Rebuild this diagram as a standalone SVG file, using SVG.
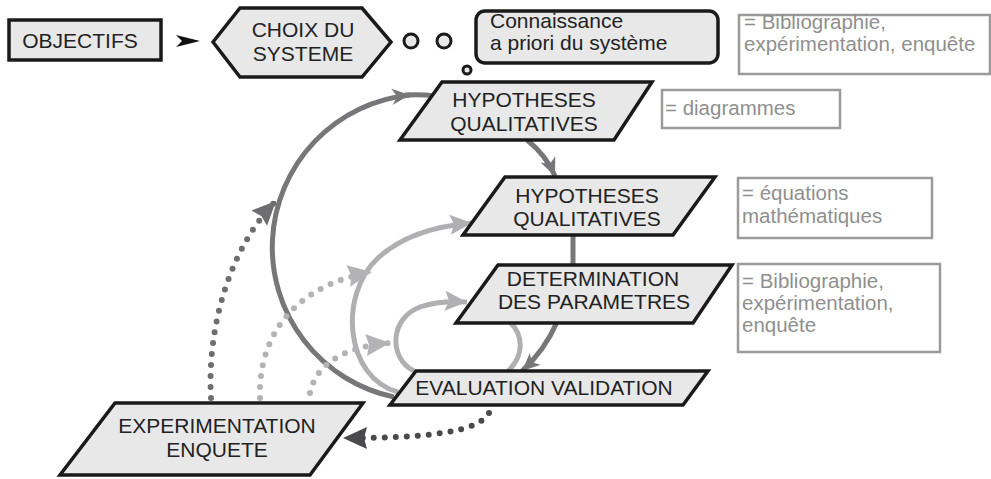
<svg xmlns="http://www.w3.org/2000/svg" width="991" height="479" viewBox="0 0 991 479">
<style>
.node{fill:#e8e8e9;stroke:#1a1a1a;stroke-width:3.5;stroke-linejoin:miter}
.t{font-family:"Liberation Sans",Arial,sans-serif;font-size:21px;fill:#222}
.m{text-anchor:middle}
.note{fill:#fff;stroke:#9a9a9a;stroke-width:2.5}
.nt{font-family:"Liberation Sans",Arial,sans-serif;font-size:20.5px;fill:#8f8f8f}
.dark{fill:none;stroke:#777779;stroke-width:5}
.light{fill:none;stroke:#b0b0b2;stroke-width:5}
.dotd{fill:none;stroke:#6e6e70;stroke-width:6;stroke-linecap:round;stroke-dasharray:0 11}
.dotl{fill:none;stroke:#b3b3b5;stroke-width:6;stroke-linecap:round;stroke-dasharray:0 11}
.dotk{fill:none;stroke:#4a4a4c;stroke-width:6;stroke-linecap:round;stroke-dasharray:0 11}
</style>
<defs>
<marker id="ad" markerUnits="userSpaceOnUse" markerWidth="20" markerHeight="16" refX="18" refY="8" orient="auto" overflow="visible">
<path d="M0,0 L18,8 L0,16 L5,8 z" fill="#777779"/>
</marker>
<marker id="al" markerUnits="userSpaceOnUse" markerWidth="24" markerHeight="20" refX="22" refY="10" orient="auto" overflow="visible">
<path d="M0,0 L22,10 L0,20 L4,10 z" fill="#b0b0b2"/>
</marker>
<marker id="adl" markerUnits="userSpaceOnUse" markerWidth="26" markerHeight="22" refX="24" refY="11" orient="auto" overflow="visible">
<path d="M0,0 L24,11 L0,22 L3,11 z" fill="#6e6e70"/>
</marker>
<marker id="all" markerUnits="userSpaceOnUse" markerWidth="26" markerHeight="22" refX="24" refY="11" orient="auto" overflow="visible">
<path d="M0,0 L24,11 L0,22 L3,11 z" fill="#b3b3b5"/>
</marker>
<marker id="akl" markerUnits="userSpaceOnUse" markerWidth="26" markerHeight="22" refX="24" refY="11" orient="auto" overflow="visible">
<path d="M0,0 L24,11 L0,22 L3,11 z" fill="#4a4a4c"/>
</marker>
</defs>

<g id="connectors">
<path d="M176,35 L200,41 L176,47 L182,41 z" fill="#111"/>
<path class="dark" d="M394,397 A 153 153 0 0 1 410,95" marker-end="url(#ad)"/>
<path class="dark" d="M405,95 Q 420,94 436,96"/>
<path class="dark" d="M527,140 Q 546,155 555,176" marker-end="url(#ad)"/>
<path class="dark" d="M573,234 L573,266"/>
<path class="dark" d="M557,322 Q 545,350 522,371" marker-end="url(#ad)"/>
<path class="light" d="M398,392 C 345,378 338,295 378,258 C 402,236 435,226 472,223" marker-end="url(#al)"/>
<path class="light" d="M414,371 C 388,358 390,318 420,307 C 434,302 450,301 467,302" marker-end="url(#al)"/>
<path class="light" d="M510,322 C 524,336 524,356 508,371"/>
<path class="dotd" d="M211,398 C 207,330 228,250 276,201" marker-end="url(#adl)"/>
<path class="dotl" d="M260,398 C 258,335 295,285 372,272" marker-end="url(#all)"/>
<path class="dotl" d="M310,393 C 316,365 342,347 390,343" marker-end="url(#all)"/>
<path class="dotk" d="M489,413 C 478,432 430,438 343,438" marker-end="url(#akl)"/>
</g>

<g id="objectifs">
<rect class="node" x="9" y="20" width="152" height="40"/>
<text class="t m" x="80" y="48">OBJECTIFS</text>
</g>

<g id="choix">
<polygon class="node" points="213,42 240,8 362,8 391,42 362,77 240,77"/>
<text class="t m" x="303" y="37">CHOIX DU</text>
<text class="t m" x="303" y="61">SYSTEME</text>
</g>

<g id="bulles">
<circle cx="411" cy="41" r="7" fill="#e8e8e9" stroke="#1a1a1a" stroke-width="3"/>
<circle cx="444" cy="41" r="7" fill="#e8e8e9" stroke="#1a1a1a" stroke-width="3"/>
<circle cx="467" cy="70" r="4" fill="#e8e8e9" stroke="#1a1a1a" stroke-width="3"/>
</g>

<g id="connaissance">
<rect class="node" x="476" y="11" width="242" height="52" rx="9"/>
<text class="t" x="490" y="28">Connaissance</text>
<text class="t" x="490" y="50">a priori du système</text>
</g>

<g id="note1">
<rect class="note" x="739" y="15" width="251" height="59"/>
<text class="nt" x="744" y="29">= Bibliographie,</text>
<text class="nt" x="744" y="51">expérimentation, enquête</text>
</g>

<g id="hyp1">
<polygon class="node" points="442,82 652,82 614,140 400,140"/>
<text class="t m" x="524" y="107">HYPOTHESES</text>
<text class="t m" x="524" y="131">QUALITATIVES</text>
</g>

<g id="note2">
<rect class="note" x="662" y="90" width="178" height="38"/>
<text class="nt" x="665" y="115">= diagrammes</text>
</g>

<g id="hyp2">
<polygon class="node" points="505,177 715,177 673,235 463,235"/>
<text class="t m" x="587" y="203">HYPOTHESES</text>
<text class="t m" x="587" y="226">QUALITATIVES</text>
</g>

<g id="note3">
<rect class="note" x="738" y="178" width="194" height="60"/>
<text class="nt" x="742" y="200">= équations</text>
<text class="nt" x="742" y="223">mathématiques</text>
</g>

<g id="determination">
<polygon class="node" points="498,265 732,265 693,323 456,323"/>
<text class="t m" x="593" y="286">DETERMINATION</text>
<text class="t m" x="594" y="309">DES PARAMETRES</text>
</g>

<g id="note4">
<rect class="note" x="738" y="264" width="202" height="88"/>
<text class="nt" x="742" y="288">= Bibliographie,</text>
<text class="nt" x="742" y="310">expérimentation,</text>
<text class="nt" x="742" y="332">enquête</text>
</g>

<g id="evaluation">
<polygon class="node" points="416,371 708,371 683,405 390,405"/>
<text class="t m" x="544" y="395">EVALUATION VALIDATION</text>
</g>

<g id="experimentation">
<polygon class="node" points="115,403 363,403 310,475 60,475"/>
<text class="t m" x="217" y="433">EXPERIMENTATION</text>
<text class="t m" x="217" y="457">ENQUETE</text>
</g>
</svg>
